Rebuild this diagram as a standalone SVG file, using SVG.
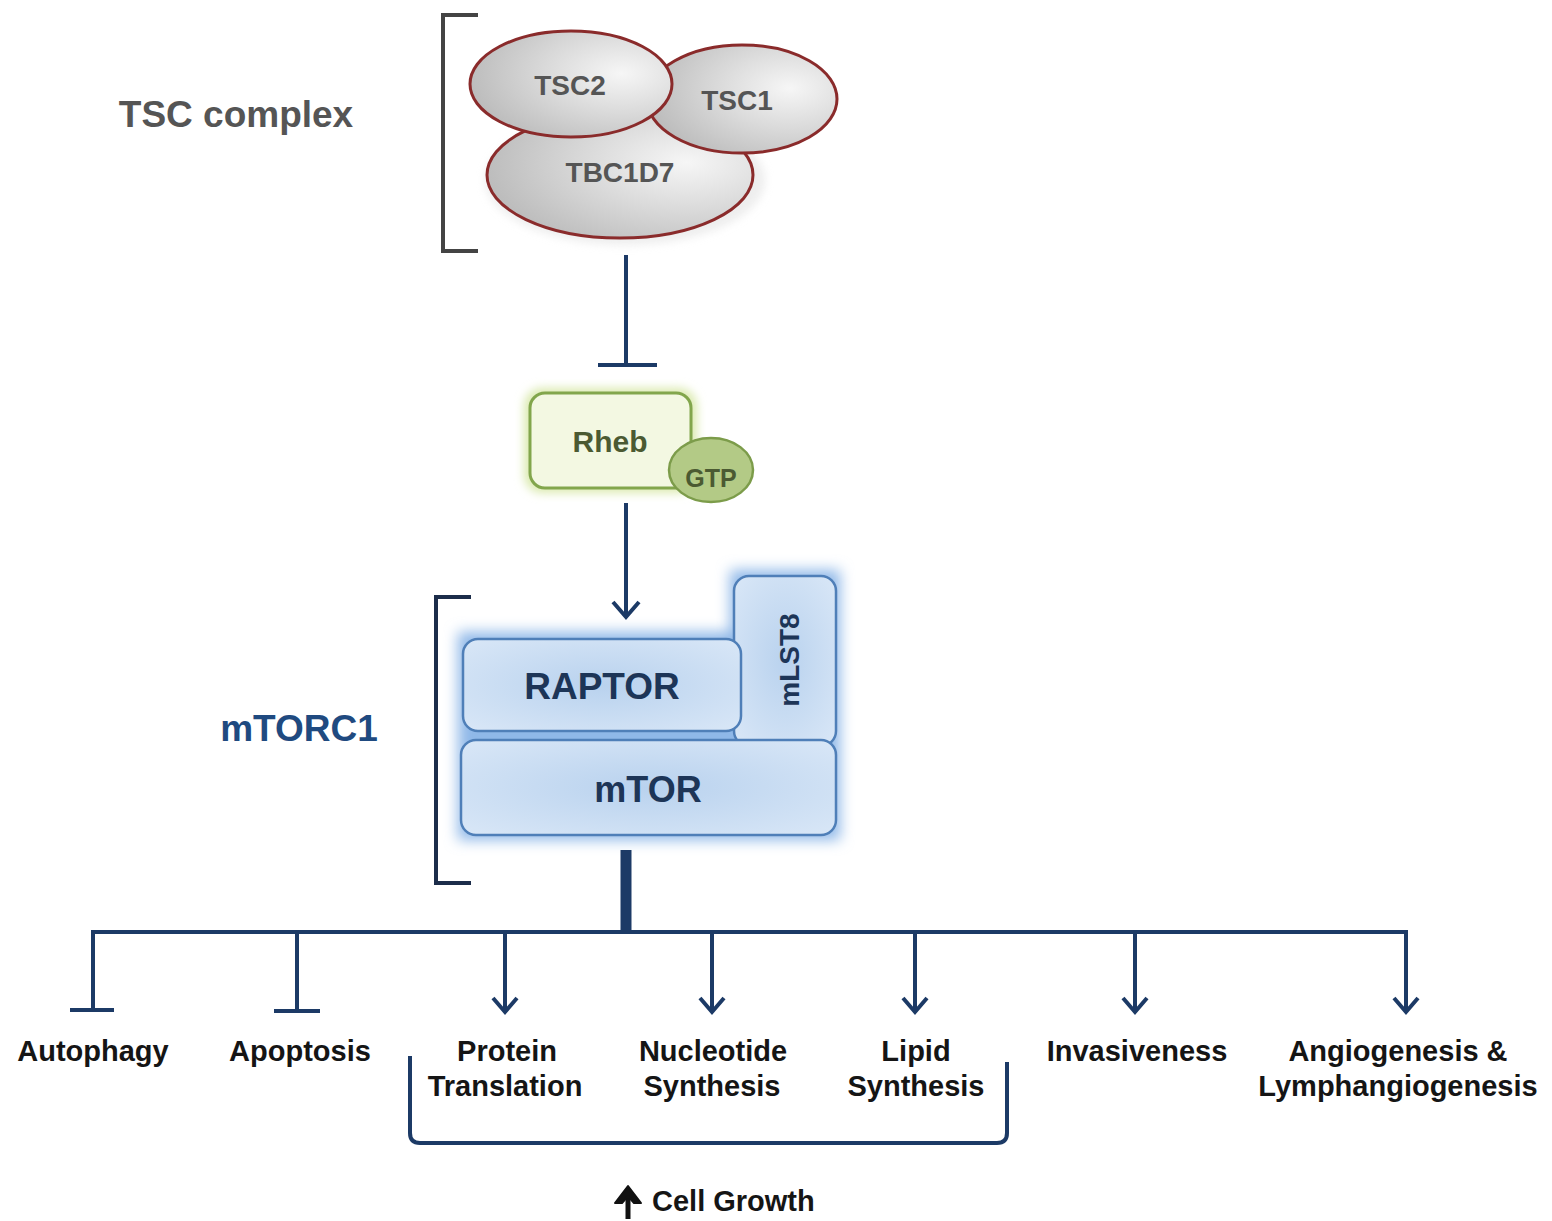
<svg xmlns="http://www.w3.org/2000/svg" width="1552" height="1221" viewBox="0 0 1552 1221">
<defs>
<style>
.lbl{font-family:"Liberation Sans",Arial,sans-serif;font-weight:bold;font-size:29px;fill:#151515;text-anchor:middle}
.tsc{font-family:"Liberation Sans",Arial,sans-serif;font-weight:bold;font-size:28px;fill:#555;text-anchor:middle}
.blue{font-family:"Liberation Sans",Arial,sans-serif;font-weight:bold;fill:#1d3557;text-anchor:middle}
.conn{stroke:#1c3a66;stroke-width:4;fill:none}
.brk{stroke:#1c2d4a;stroke-width:4;fill:none}
.ell{stroke:#8a2b2b;stroke-width:3;fill:url(#gray)}
.bbox{fill:url(#bluef);stroke:#4f7fb8;stroke-width:2.5}
</style>
<radialGradient id="gray" cx="0.75" cy="0.4" r="0.75">
<stop offset="0" stop-color="#f6f6f6"/>
<stop offset="0.5" stop-color="#dadada"/>
<stop offset="1" stop-color="#bdbdbd"/>
</radialGradient>
<radialGradient id="bluef" cx="0.5" cy="0.5" r="0.7">
<stop offset="0" stop-color="#b9d2ee"/>
<stop offset="1" stop-color="#d9e7f7"/>
</radialGradient>
<filter id="glowB" x="-20%" y="-20%" width="140%" height="140%">
<feGaussianBlur stdDeviation="7"/>
</filter>
<filter id="glowG" x="-20%" y="-20%" width="140%" height="140%">
<feGaussianBlur stdDeviation="5"/>
</filter>
<filter id="shadow" x="-20%" y="-20%" width="140%" height="140%">
<feGaussianBlur stdDeviation="4"/>
</filter>
</defs>
<rect width="1552" height="1221" fill="#ffffff"/>

<g id="tsc-complex-label">
<text x="236" y="127" font-family="Liberation Sans, Arial, sans-serif" font-weight="bold" font-size="37" fill="#555" text-anchor="middle">TSC complex</text>
<path d="M478,15 H443 V251 H478" stroke="#444" stroke-width="4" fill="none"/>
</g>

<g id="tsc-complex">
<ellipse cx="625" cy="180" rx="140" ry="65" fill="#ddd" filter="url(#shadow)" opacity="0.5"/>
<ellipse id="TBC1D7" class="ell" cx="620" cy="175" rx="133" ry="63"/>
<ellipse id="TSC1" class="ell" cx="742" cy="99" rx="95" ry="54"/>
<ellipse id="TSC2" class="ell" cx="571" cy="84" rx="101" ry="53"/>
<text class="tsc" x="570" y="95">TSC2</text>
<text class="tsc" x="737" y="110">TSC1</text>
<text class="tsc" x="620" y="182">TBC1D7</text>
</g>

<g id="rheb">
<rect x="524" y="388" width="173" height="105" rx="18" fill="#dbeab0" filter="url(#glowG)"/>
<rect x="530" y="393" width="161" height="95" rx="15" fill="#f3f8e2" stroke="#82a64c" stroke-width="3"/>
<text x="610" y="452" font-family="Liberation Sans, Arial, sans-serif" font-weight="bold" font-size="30" fill="#4b5a32" text-anchor="middle">Rheb</text>
<g id="gtp">
<ellipse cx="711" cy="470" rx="42" ry="32" fill="#b3ca86" stroke="#7c9c4a" stroke-width="2.5"/>
<text x="711" y="487" font-family="Liberation Sans, Arial, sans-serif" font-weight="bold" font-size="25" fill="#4b5a32" text-anchor="middle">GTP</text>
</g>
</g>

<g id="mtorc1">
<text class="blue" x="299" y="741" font-size="37" style="fill:#1f4a80">mTORC1</text>
<path class="brk" d="M471,597 H436 V883 H471"/>
<path d="M458,632 H730 V570 H840 V840 H458 Z" fill="#8fb8e8" filter="url(#glowB)"/>
<g id="mLST8">
<rect class="bbox" x="734" y="576" width="102" height="170" rx="15"/>
<text class="blue" font-size="28" transform="translate(799,660) rotate(-90)">mLST8</text>
</g>
<g id="RAPTOR">
<rect class="bbox" x="463" y="639" width="278" height="92" rx="15"/>
<text class="blue" x="602" y="699" font-size="37">RAPTOR</text>
</g>
<g id="mTOR">
<rect class="bbox" x="461" y="740" width="375" height="95" rx="15"/>
<text class="blue" x="648" y="802" font-size="36">mTOR</text>
</g>
</g>

<g id="connectors">
<path class="conn" d="M626,255 V365 M598,365 H657"/>
<path class="conn" d="M626,503 V617 M613,602 L626,617 L639,602"/>
<path d="M626,850 V932" stroke="#1c3a66" stroke-width="11"/>
<path class="conn" d="M93,1010 V932 H1406 V1010"/>
<path class="conn" d="M70,1010 H114"/>
<path class="conn" d="M297,932 V1011 M274,1011 H320"/>
<path class="conn" d="M505,932 V1012 M493,998 L505,1012 L517,998"/>
<path class="conn" d="M712,932 V1012 M700,998 L712,1012 L724,998"/>
<path class="conn" d="M915,932 V1012 M903,998 L915,1012 L927,998"/>
<path class="conn" d="M1135,932 V1012 M1123,998 L1135,1012 L1147,998"/>
<path class="conn" d="M1394,998 L1406,1012 L1418,998"/>
<path class="conn" d="M410,1056 V1133 Q410,1143 420,1143 H997 Q1007,1143 1007,1133 V1062"/>
</g>

<g id="outputs">
<text class="lbl" x="93" y="1061">Autophagy</text>
<text class="lbl" x="300" y="1061">Apoptosis</text>
<text class="lbl" x="507" y="1061">Protein</text>
<text class="lbl" x="505" y="1096">Translation</text>
<text class="lbl" x="713" y="1061">Nucleotide</text>
<text class="lbl" x="712" y="1096">Synthesis</text>
<text class="lbl" x="916" y="1061">Lipid</text>
<text class="lbl" x="916" y="1096">Synthesis</text>
<text class="lbl" x="1137" y="1061">Invasiveness</text>
<text class="lbl" x="1398" y="1061">Angiogenesis &amp;</text>
<text class="lbl" x="1398" y="1096">Lymphangiogenesis</text>
</g>

<g id="cell-growth">
<path d="M628,1219 V1196" stroke="#111" stroke-width="5" fill="none"/>
<path d="M615,1203 L628,1186 L641,1203 L634,1203 L628,1196 L622,1203 Z" fill="#111" stroke="#111" stroke-width="2" stroke-linejoin="round"/>
<text class="lbl" x="652" y="1211" style="text-anchor:start">Cell Growth</text>
</g>
</svg>
